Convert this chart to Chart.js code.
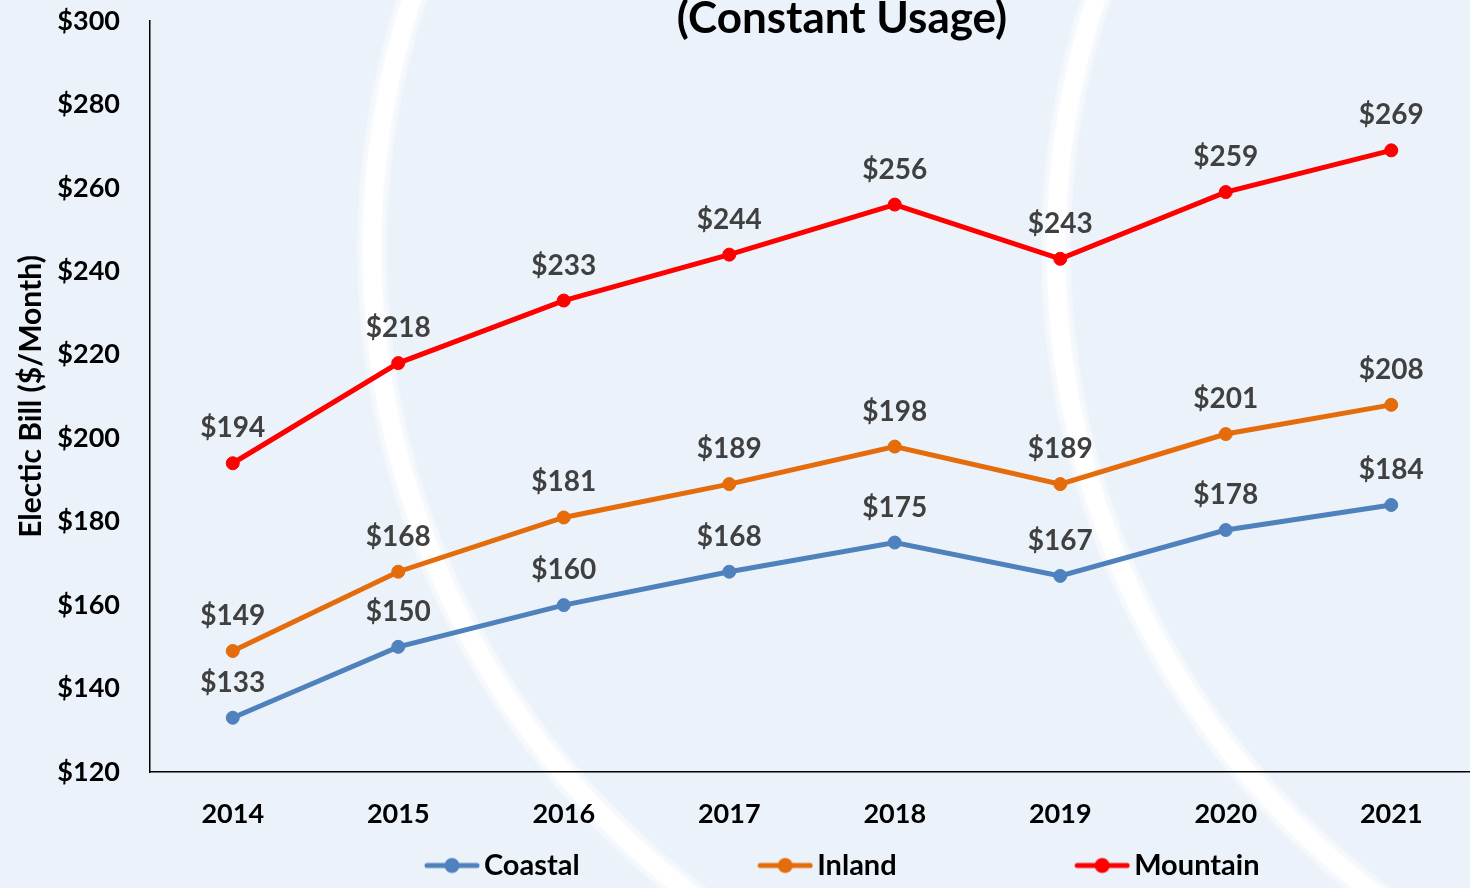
<!DOCTYPE html>
<html>
<head>
<meta charset="utf-8">
<title>Electric Bill (Constant Usage)</title>
<script src="https://cdn.jsdelivr.net/npm/chart.js@4.4.0/dist/chart.umd.min.js"></script>
<style>
  html, body { margin: 0; padding: 0; background: #ebf2fa; overflow: hidden; }
  #wrap { position: relative; width: 1474px; height: 888px; }
</style>
</head>
<body>
<div id="wrap"><canvas id="billChart" width="1474" height="888"></canvas></div>
<script>
// chart data
const years = ['2014', '2015', '2016', '2017', '2018', '2019', '2020', '2021'];
const coastal = [133, 150, 160, 168, 175, 167, 178, 184];
const inland = [149, 168, 181, 189, 198, 189, 201, 208];
const mountain = [194, 218, 233, 244, 256, 243, 259, 269];
const yMin = 120;
const yMax = 300;
const yStep = 20;

const seriesNames = ['Coastal', 'Inland', 'Mountain'];
const seriesColors = ['#4f81bd', '#e46c0a', '#ff0000'];

Chart.defaults.font.family = 'Lato';

// legend marker: short line with a dot, sitting at the right end of a wide box
const makeMarker = (color) => {
  const c = document.createElement('canvas');
  c.width = 234;
  c.height = 18;
  const g = c.getContext('2d');
  g.strokeStyle = color;
  g.lineWidth = 5;
  g.lineCap = 'round';
  g.beginPath();
  g.moveTo(181, 9);
  g.lineTo(231, 9);
  g.stroke();
  g.fillStyle = color;
  g.beginPath();
  g.arc(206, 9, 7.5, 0, Math.PI * 2);
  g.fill();
  return c;
};
const markers = seriesColors.map(makeMarker);

// background with the two white arcs
const backdrop = {
  id: 'backdrop',
  beforeDraw(chart) {
    const ctx = chart.ctx;
    ctx.save();
    ctx.fillStyle = '#ebf2fa';
    ctx.fillRect(0, 0, chart.width, chart.height);
    [[1182, 250], [1866, 250]].forEach(([cx, cy]) => {
      ctx.beginPath();
      ctx.arc(cx, cy, 810, 0, Math.PI * 2);
      ctx.strokeStyle = 'rgba(255,255,255,0.4)';
      ctx.lineWidth = 30;
      ctx.stroke();
      ctx.shadowColor = 'rgba(255,255,255,0.9)';
      ctx.shadowBlur = 6;
      ctx.strokeStyle = '#ffffff';
      ctx.lineWidth = 18;
      ctx.stroke();
      ctx.shadowBlur = 0;
    });
    ctx.restore();
  }
};

// value labels above each point
const valueLabels = {
  id: 'valueLabels',
  afterDatasetsDraw(chart) {
    const ctx = chart.ctx;
    ctx.save();
    ctx.font = 'bold 28px Lato';
    ctx.fillStyle = '#404040';
    ctx.textAlign = 'center';
    ctx.textBaseline = 'alphabetic';
    chart.data.datasets.forEach((ds, i) => {
      chart.getDatasetMeta(i).data.forEach((pt, j) => {
        ctx.fillText('$' + ds.data[j], pt.x, pt.y - 26);
      });
    });
    ctx.restore();
  }
};

// title, cut off at the top like the source slide
const topTitle = {
  id: 'topTitle',
  afterDraw(chart) {
    const ctx = chart.ctx;
    ctx.save();
    ctx.font = 'bold 44px Lato';
    ctx.fillStyle = '#000';
    ctx.textAlign = 'center';
    ctx.textBaseline = 'alphabetic';
    ctx.fillText('(Constant Usage)', 842, 33);
    ctx.restore();
  }
};

const seriesData = [coastal, inland, mountain];

new Chart(document.getElementById('billChart'), {
  type: 'line',
  data: {
    labels: years,
    datasets: seriesData.map((values, i) => ({
      label: seriesNames[i],
      data: values,
      borderColor: seriesColors[i],
      backgroundColor: seriesColors[i],
      pointBackgroundColor: seriesColors[i],
      pointBorderColor: seriesColors[i],
      borderWidth: 5,
      pointRadius: 6.5,
      pointBorderWidth: 1,
      tension: 0,
      fill: false
    }))
  },
  options: {
    responsive: false,
    devicePixelRatio: 1,
    animation: false,
    layout: { autoPadding: false, padding: { left: 42, top: 21, right: 0, bottom: -2 } },
    plugins: {
      title: { display: false },
      tooltip: { enabled: false },
      legend: {
        position: 'bottom',
        align: 'center',
        labels: {
          usePointStyle: true,
          pointStyleWidth: 213,
          padding: 10,
          color: '#000',
          font: { size: 29, weight: 'bold' },
          generateLabels(chart) {
            const items = Chart.defaults.plugins.legend.labels.generateLabels(chart);
            items.forEach((item, i) => { item.pointStyle = markers[i]; });
            return items;
          }
        }
      }
    },
    scales: {
      x: {
        offset: true,
        grid: { display: false },
        border: { display: true, color: '#000', width: 1.5 },
        ticks: {
          color: '#000',
          font: { size: 27, weight: 'bold' },
          padding: 18,
          maxRotation: 0,
          autoSkip: false
        },
        afterFit(scale) {
          scale.height = 69;
          scale.paddingLeft = 0;
          scale.paddingRight = 0;
        }
      },
      y: {
        min: yMin,
        max: yMax,
        grid: { display: false },
        border: { display: true, color: '#000', width: 1.5 },
        ticks: {
          stepSize: yStep,
          color: '#000',
          padding: 22,
          font: { size: 27, weight: 'bold' },
          callback: (value) => '$' + value
        },
        title: {
          display: true,
          text: 'Electic Bill ($/Month)',
          color: '#000',
          font: { size: 30, weight: 'bold' },
          padding: { top: -29, bottom: 0 }
        },
        afterFit(scale) {
          scale.width = 108;
          scale.paddingTop = 0;
          scale.paddingBottom = 0;
        }
      }
    }
  },
  plugins: [backdrop, valueLabels, topTitle]
});
</script>
</body>
</html>
